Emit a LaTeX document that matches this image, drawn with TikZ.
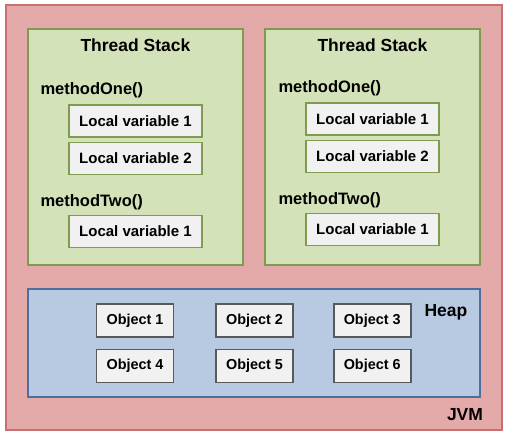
\documentclass[tikz,border=0pt]{standalone}
\usepackage{fontspec}
\setmainfont{Liberation Sans}
\usepackage{xcolor}
\usetikzlibrary{positioning}

\definecolor{jvmfill}{HTML}{E4AAAA}
\definecolor{jvmline}{HTML}{C87070}
\definecolor{stackfill}{HTML}{D4E2BA}
\definecolor{stackline}{HTML}{809A50}
\definecolor{heapfill}{HTML}{B8C9E2}
\definecolor{heapline}{HTML}{4F6E9C}
\definecolor{boxfill}{HTML}{F1F1F1}

\begin{document}
\begin{tikzpicture}[x=1pt, y=-1pt, node distance=4pt,
    stack/.style={rectangle, draw=stackline, fill=stackfill, line width=1.6pt, minimum width=215pt, minimum height=236pt},
    varbox/.style={rectangle, draw=stackline, line width=1.6pt, fill=boxfill, minimum width=133pt, minimum height=32pt, font=\fontsize{15}{17}\selectfont\bfseries},
    objbox/.style={rectangle, draw=black!65, line width=1.6pt, fill=boxfill, minimum width=77pt, minimum height=33pt, font=\fontsize{14.4}{16}\selectfont\bfseries},
    title/.style={font=\fontsize{17.5}{19}\selectfont\bfseries},
    method/.style={anchor=west, font=\fontsize{16.5}{18}\selectfont\bfseries}]
    \useasboundingbox (0,0) rectangle (508,436);

    % Containers
    \node (jvm) [rectangle, draw=jvmline, fill=jvmfill, line width=1.6pt, minimum width=496pt, minimum height=425pt] at (254,217.5) {};
    \node (stack_one) [stack] at (135.5,147) {};
    \node (stack_two) [stack] at (372.5,147) {};
    \node (heap) [rectangle, draw=heapline, fill=heapfill, line width=1.6pt, minimum width=452pt, minimum height=108pt] at (254,343) {};

    % Thread stack 1
    \node (title_one) [title] at (135.5,45) {Thread Stack};
    \node (m_one_a) [method] at (37,90) {methodOne()};
    \node (lv_one_a) [varbox] at (135.5,121) {Local variable 1};
    \node (lv_one_b) [varbox, below=of lv_one_a] {Local variable 2};
    \node (m_one_b) [method] at (37,202) {methodTwo()};
    \node (lv_one_c) [varbox] at (135.5,231.5) {Local variable 1};

    % Thread stack 2
    \node (title_two) [title] at (372.5,45) {Thread Stack};
    \node (m_two_a) [method] at (275,88) {methodOne()};
    \node (lv_two_a) [varbox] at (372.5,119) {Local variable 1};
    \node (lv_two_b) [varbox, below=of lv_two_a] {Local variable 2};
    \node (m_two_b) [method] at (275,200) {methodTwo()};
    \node (lv_two_c) [varbox] at (372.5,229.5) {Local variable 1};

    % Heap objects
    \node (obj_1) [objbox] at (135,320.5) {Object 1};
    \node (obj_2) [objbox, right=41pt of obj_1] {Object 2};
    \node (obj_3) [objbox, right=39pt of obj_2] {Object 3};
    \node (obj_4) [objbox, below=11pt of obj_1] {Object 4};
    \node (obj_5) [objbox, below=11pt of obj_2] {Object 5};
    \node (obj_6) [objbox, below=11pt of obj_3] {Object 6};

    % Labels
    \node (heap_label) [title] at (446,312) {Heap};
    \node (jvm_label) [title] at (465,415) {JVM};
\end{tikzpicture}
\end{document}
